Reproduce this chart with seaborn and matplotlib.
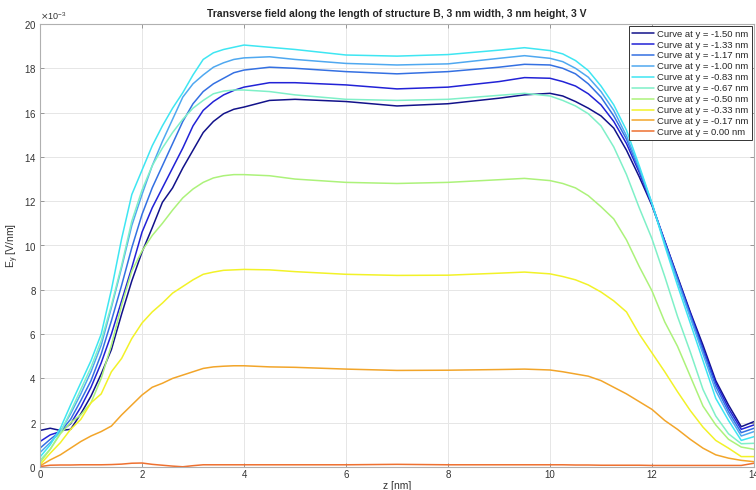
import numpy as np
import pandas as pd
import matplotlib
matplotlib.use("Agg")
import matplotlib.pyplot as plt
import matplotlib.ticker as mticker
import seaborn as sns

# Position along the structure [nm]
z_nm = [0.0, 0.2, 0.4, 0.6, 0.8, 1.0, 1.2, 1.4, 1.6, 1.8, 2.0, 2.2, 2.4, 2.6, 2.8,
        3.0, 3.2, 3.4, 3.6, 3.8, 4.0, 4.5, 5.0, 6.0, 7.0, 8.0, 9.0, 9.5,
        10.0, 10.25, 10.5, 10.75, 11.0, 11.25, 11.5, 11.75, 12.0, 12.25, 12.5,
        12.75, 13.0, 13.25, 13.5, 13.75, 14.0]

# Transverse field E_y, in units of 1e-3 V/nm, one list per y position
ey_m150 = [1.65, 1.75, 1.65, 1.7, 2.4, 3.2, 4.2, 5.3, 6.9, 8.4, 9.7, 10.8, 11.95, 12.6, 13.5,
           14.3, 15.1, 15.6, 15.95, 16.15, 16.25, 16.55, 16.6, 16.5, 16.3, 16.4, 16.65, 16.8,
           16.87, 16.75, 16.5, 16.2, 15.85, 15.3, 14.3, 13.1, 11.8, 10.2, 8.6,
           7.0, 5.5, 3.9, 2.8, 1.82, 2.05]
ey_m133 = [1.15, 1.45, 1.6, 1.95, 2.7, 3.6, 4.7, 6.0, 7.5, 9.0, 10.6, 11.7, 12.6, 13.5, 14.4,
           15.4, 16.1, 16.5, 16.8, 17.0, 17.15, 17.35, 17.35, 17.25, 17.07, 17.15, 17.4, 17.58,
           17.55, 17.4, 17.2, 16.85, 16.35, 15.6, 14.6, 13.3, 11.85, 10.2, 8.55,
           6.95, 5.35, 3.8, 2.65, 1.7, 1.9]
ey_m117 = [0.85, 1.25, 1.6, 2.15, 3.0, 3.9, 5.1, 6.6, 8.2, 9.9, 11.4, 12.6, 13.6, 14.6, 15.6,
           16.4, 16.95, 17.3, 17.55, 17.8, 17.92, 18.05, 18.0, 17.85, 17.75, 17.85, 18.05, 18.18,
           18.15, 18.0, 17.75, 17.3, 16.7, 15.85, 14.8, 13.4, 11.85, 10.15, 8.5,
           6.85, 5.25, 3.65, 2.5, 1.55, 1.75]
ey_m100 = [0.65, 1.1, 1.6, 2.4, 3.3, 4.3, 5.5, 7.2, 9.0, 10.9, 12.3, 13.6, 14.7, 15.7, 16.7,
           17.3, 17.7, 18.05, 18.25, 18.4, 18.47, 18.52, 18.4, 18.22, 18.15, 18.2, 18.45, 18.57,
           18.45, 18.3, 18.0, 17.6, 16.95, 16.1, 14.95, 13.5, 11.9, 10.1, 8.4,
           6.75, 5.1, 3.45, 2.35, 1.4, 1.6]
ey_m083 = [0.45, 1.0, 1.75, 2.8, 3.8, 4.8, 6.0, 8.0, 10.3, 12.3, 13.4, 14.5, 15.4, 16.2, 16.9,
           17.7, 18.4, 18.7, 18.85, 18.95, 19.05, 18.95, 18.85, 18.6, 18.55, 18.62, 18.82, 18.93,
           18.8, 18.65, 18.35, 17.9, 17.2, 16.35, 15.2, 13.6, 11.9, 10.0, 8.2,
           6.5, 4.8, 3.1, 2.1, 1.2, 1.37]
ey_m067 = [0.3, 0.8, 1.55, 2.5, 3.5, 4.5, 5.7, 7.3, 9.1, 11.1, 12.5, 13.6, 14.4, 15.1, 15.7,
           16.2, 16.55, 16.85, 16.97, 17.02, 17.02, 16.95, 16.8, 16.6, 16.55, 16.6, 16.78, 16.87,
           16.75, 16.55, 16.3, 15.95, 15.4, 14.45, 13.2, 11.7, 10.3, 8.6, 6.8,
           5.2, 3.5, 2.3, 1.5, 1.05, 1.07]
ey_m050 = [0.2, 0.8, 1.5, 2.0, 2.35, 2.9, 4.0, 5.5, 7.3, 8.85, 9.75, 10.45, 11.0, 11.6, 12.15,
           12.55, 12.85, 13.05, 13.15, 13.2, 13.2, 13.15, 13.0, 12.85, 12.8, 12.85, 12.97, 13.03,
           12.93, 12.8, 12.6, 12.25, 11.75, 11.2, 10.25, 9.05, 7.95, 6.55, 5.45,
           4.1, 2.75, 1.9, 1.25, 0.9, 0.8]
ey_m033 = [0.1, 0.62, 1.1, 1.7, 2.15, 2.9, 3.3, 4.3, 4.9, 5.8, 6.5, 7.0, 7.4, 7.85, 8.15,
           8.45, 8.7, 8.8, 8.88, 8.9, 8.92, 8.9, 8.82, 8.7, 8.65, 8.66, 8.75, 8.8,
           8.72, 8.6, 8.45, 8.22, 7.9, 7.5, 7.0, 6.0, 5.15, 4.3, 3.4,
           2.55, 1.8, 1.2, 0.85, 0.47, 0.47]
ey_m017 = [0.05, 0.32, 0.55, 0.85, 1.15, 1.4, 1.6, 1.85, 2.35, 2.8, 3.25, 3.6, 3.78, 4.0, 4.15,
           4.3, 4.45, 4.52, 4.55, 4.57, 4.57, 4.52, 4.5, 4.42, 4.36, 4.37, 4.4, 4.42,
           4.38, 4.3, 4.2, 4.1, 3.9, 3.6, 3.3, 2.95, 2.6, 2.1, 1.7,
           1.25, 0.85, 0.55, 0.4, 0.3, 0.24]
ey_p000 = [0.02, 0.08, 0.09, 0.09, 0.1, 0.1, 0.1, 0.11, 0.13, 0.17, 0.18, 0.12, 0.08, 0.04, 0.01,
           0.06, 0.1, 0.1, 0.1, 0.1, 0.1, 0.1, 0.1, 0.1, 0.12, 0.1, 0.1, 0.1,
           0.1, 0.1, 0.09, 0.09, 0.08, 0.08, 0.08, 0.08, 0.07, 0.07, 0.07,
           0.07, 0.07, 0.07, 0.07, 0.07, 0.17]

y_positions = [-1.50, -1.33, -1.17, -1.00, -0.83, -0.67, -0.50, -0.33, -0.17, 0.00]
series = [ey_m150, ey_m133, ey_m117, ey_m100, ey_m083,
          ey_m067, ey_m050, ey_m033, ey_m017, ey_p000]
colors = ["#12128a", "#2222d6", "#3470e2", "#4fa8f0", "#3ee6f2",
          "#7ff0c8", "#acf27a", "#f2f228", "#f2a52a", "#ee7030"]

labels = [f"Curve at y = {y:.2f} nm" for y in y_positions]

frames = []
for lab, vals in zip(labels, series):
    frames.append(pd.DataFrame({"z": z_nm,
                                "Ey": np.asarray(vals) * 1e-3,
                                "curve": lab}))
df = pd.concat(frames, ignore_index=True)
palette = dict(zip(labels, colors))

sns.set_theme(style="white")
plt.rcParams["font.family"] = ["Liberation Sans", "DejaVu Sans"]

fig = plt.figure(figsize=(7.56, 4.90), dpi=100)
ax = fig.add_axes([40 / 756, 23 / 490, 714 / 756, 443 / 490])

sns.lineplot(data=df, x="z", y="Ey", hue="curve", hue_order=labels,
             palette=palette, estimator=None, sort=False, linewidth=1.1, ax=ax)

ax.set_xlim(0, 14)
ax.set_ylim(0, 0.020)
ax.set_xticks(np.arange(0, 15, 2))
ax.set_yticks(np.arange(0, 0.0201, 0.002))

fmt = mticker.ScalarFormatter(useMathText=True)
fmt.set_powerlimits((-3, -3))
ax.yaxis.set_major_formatter(fmt)
ax.yaxis.get_offset_text().set_fontsize(6.5)
ax.yaxis.get_offset_text().set_color("#555555")

ax.grid(True, color="#e6e6e6", linewidth=0.7)
ax.set_axisbelow(True)
for sp in ax.spines.values():
    sp.set_color("#b0b0b0")
    sp.set_linewidth(0.8)
ax.tick_params(direction="in", length=3, width=0.6, color="#8a8a8a",
               labelsize=7, labelcolor="#333333", top=True, right=True,
               bottom=True, left=True, pad=2.5)

ax.set_xlabel("z [nm]", fontsize=7.5, color="#333333", labelpad=0)
ax.xaxis.set_label_coords(0.5, -0.031)
ax.set_ylabel(r"E$_\mathregular{y}$ [V/nm]", fontsize=7.5, color="#333333")
ax.yaxis.set_label_coords(-0.027, 0.5)
ax.set_title("Transverse field along the length of structure B, 3 nm width, 3 nm height, 3 V",
             fontsize=7.5, fontweight="bold", pad=5)

leg = ax.legend(loc="upper right", fontsize=6.8, frameon=True, fancybox=False,
                borderaxespad=0.25, handlelength=2.3, handletextpad=0.3,
                labelspacing=0.2, borderpad=0.35)
leg.get_frame().set_edgecolor("#333333")
leg.get_frame().set_linewidth(0.7)
leg.get_frame().set_alpha(1.0)

fig.savefig("out.png", dpi=100)
